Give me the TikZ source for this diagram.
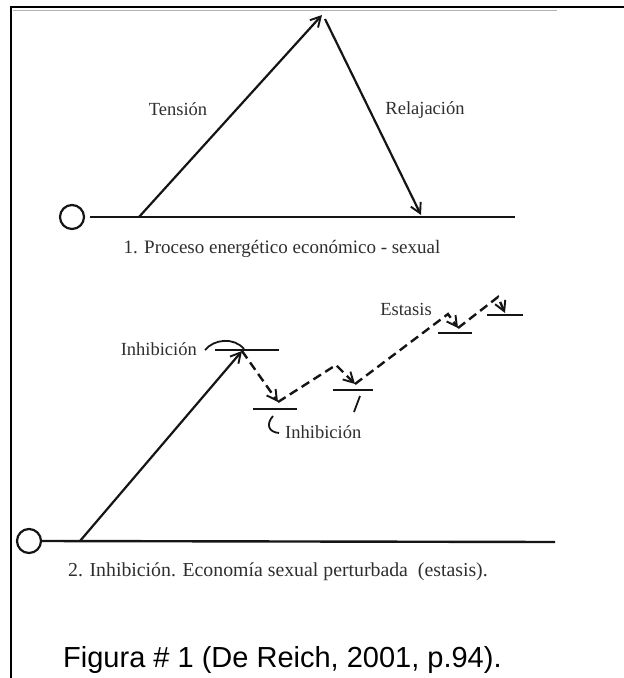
\documentclass[tikz,border=0pt]{standalone}
\usepackage{fontspec}
\setmainfont{Liberation Serif}
\newfontfamily\scanfont{Liberation Serif}
\newfontfamily\capfont{Liberation Sans}
\usepackage{tikz}
\usetikzlibrary{arrows.meta}
\definecolor{inkblack}{HTML}{151515}
\definecolor{scangray}{HTML}{2E2E2E}

\tikzset{
  stroke/.style={inkblack,line width=2.4pt},
  flow/.style={inkblack,line width=2.2pt,-{Straight Barb[length=10pt,width=11pt,line width=1.9pt]}},
  flowdash/.style={flow,dash pattern=on 9pt off 5pt,line width=2.4pt},
  bar/.style={inkblack,line width=2.4pt},
  circ/.style={circle,draw=inkblack,line width=2.2pt,minimum size=24pt,inner sep=0pt},
  lbl/.style={scangray,font=\scanfont\fontsize{18.5}{21}\selectfont,inner sep=0pt},
}

\begin{document}
\begin{tikzpicture}[x=1pt,y=-1pt]
  \useasboundingbox (0,0) rectangle (624,678);
  % frame
  \draw[black,line width=2.5pt] (11,678) -- (11,7) -- (624,7);
  \draw[gray!60,line width=1pt] (13,10) -- (557,10);

  % 1. energetic process
  \node[circ] (o1) at (72,217) {};
  \coordinate (b1s) at (90,217);
  \coordinate (b1e) at (515,217);
  \draw[stroke] (b1s) -- (b1e);
  \coordinate (t1) at (139,217);
  \coordinate (apex) at (322,15);
  \coordinate (rtop) at (325,19);
  \coordinate (r1) at (421,215);
  \draw[flow] (t1) -- (apex);
  \draw[flow] (rtop) -- (r1);
  \node[lbl,anchor=base] (tension) at (178,115) {Tensión};
  \node[lbl,anchor=base] (relax) at (425,114) {Relajación};
  \node[lbl,anchor=base,font=\scanfont\fontsize{19}{22}\selectfont] (cap1) at (282,253)
    {1. Proceso energético económico - sexual};

  % 2. inhibition
  \node[circ] (o2) at (29,541) {};
  \coordinate (b2e) at (555,542);
  \draw[stroke] (o2.east) -- (b2e);
  \coordinate (t2) at (80,541);
  \coordinate (p0) at (242,351);
  \draw[flow] (t2) -- (p0);
  % steps
  \foreach \x/\y/\w in {215/350/64, 253/409/44, 333/390/40, 438/333/34, 487/315/36}
    \draw[bar] (\x,\y) -- ++(\w,0);
  \coordinate (p1) at (278,402);
  \coordinate (k1) at (336,365);
  \coordinate (p2) at (355,384);
  \coordinate (k2) at (448,314);
  \coordinate (p3) at (458,328);
  \coordinate (k3) at (498,297);
  \coordinate (p4) at (505,313);
  \draw[flowdash] (p0) -- (p1);
  \draw[flowdash] (p1) -- (k1) -- (p2);
  \draw[flowdash] (p2) -- (k2) -- (p3);
  \draw[flowdash] (p3) -- (k3) -- (p4);
  % hooks
  \draw[inkblack,line width=1.8pt] (205,350) .. controls (214,339) and (234,337) .. (244,349);
  \draw[inkblack,line width=1.8pt] (273,416) .. controls (266,424) and (268,432) .. (279,433);
  \draw[inkblack,line width=1.8pt] (360,396) -- (354,412);
  \node[lbl,anchor=base east] (inh1) at (197,355) {Inhibición};
  \node[lbl,anchor=base west] (inh2) at (285,438) {Inhibición};
  \node[lbl,anchor=base] (estasis) at (406,315) {Estasis};
  \node[lbl,anchor=base west,font=\scanfont\fontsize{19.8}{23}\selectfont] (cap2) at (68,576)
    {2. Inhibición. Economía sexual perturbada \ (estasis).};

  % source
  \node[anchor=base west,inner sep=0pt,font=\capfont\fontsize{29}{34}\selectfont] (fig) at (63,667)
    {Figura \# 1 (De Reich, 2001, p.94).};
\end{tikzpicture}
\end{document}
